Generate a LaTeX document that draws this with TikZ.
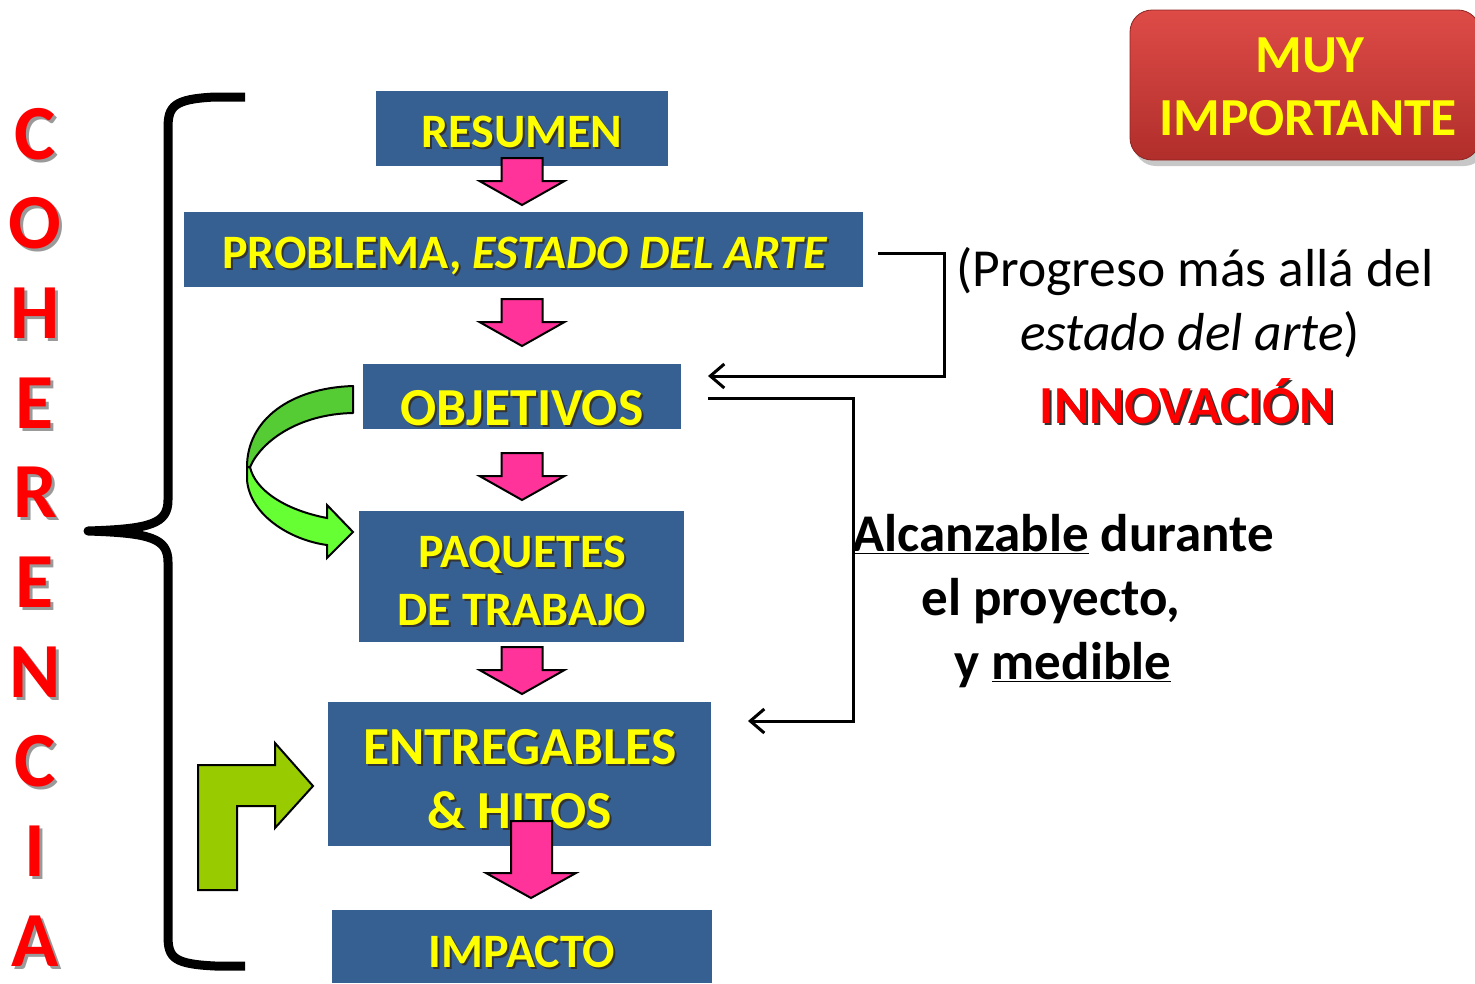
\documentclass[tikz,border=0pt]{standalone}
\usepackage{fontspec}
\setmainfont{Carlito}
\usetikzlibrary{arrows.meta,calc}
\definecolor{boxblue}{HTML}{376092}
\definecolor{ylw}{HTML}{FFFF00}
\definecolor{pinkc}{HTML}{FF3399}
\definecolor{grnA}{HTML}{55CC33}
\definecolor{grnB}{HTML}{66FF33}
\definecolor{olivec}{HTML}{99CC00}
\definecolor{redtop}{HTML}{DE4B47}
\definecolor{redbot}{HTML}{B02E2B}
\definecolor{shadowc}{HTML}{333333}
\definecolor{shadowl}{HTML}{9A9A9A}
\definecolor{redtxt}{HTML}{FF0000}
\newcommand\shd[1]{\leavevmode\rlap{\kern2pt\raisebox{-2pt}{\textcolor{shadowc}{#1}}}#1}
\newcommand\shdl[1]{\leavevmode\rlap{\kern3pt\raisebox{-3pt}{\textcolor{shadowl}{#1}}}#1}
\begin{document}
\begin{tikzpicture}[x=1pt,y=-1pt,
  box/.style={fill=boxblue, draw=none, inner sep=0pt, outer sep=0pt},
  boxtxt/.style={text=ylw, inner sep=0pt, anchor=base, font=\bfseries\fontsize{48}{56}\selectfont},
  bigtxt/.style={boxtxt, font=\bfseries\fontsize{53.5}{62}\selectfont},
  pinkarr/.style={fill=pinkc, draw=black, line width=2pt, line join=miter},
  link/.style={draw=black, line width=3pt, -{Straight Barb[length=14pt,width=24pt]}},
  rtxt/.style={inner sep=0pt, anchor=base, font=\fontsize{53.5}{62}\selectfont},
  rbtxt/.style={inner sep=0pt, anchor=base, font=\bfseries\fontsize{53}{60}\selectfont},
  cohtxt/.style={inner sep=0pt, anchor=base, text=redtxt, font=\bfseries\fontsize{78}{80}\selectfont},
  pinkdown/.pic={\path[pinkarr] (-20.5,0) -- (20.5,0) -- (20.5,23) -- (42.5,23) -- (0,47) -- (-42.5,23) -- (-20.5,23) -- cycle;}
]
\useasboundingbox (0,0) rectangle (1475,983);
\fill[white] (0,0) rectangle (1475,983);

% MUY IMPORTANTE
\fill[black, opacity=0.22, rounded corners=22pt] (1134,16) rectangle (1486,166);
\node[draw=redbot!80!black, line width=0.8pt, rounded corners=22pt, top color=redtop, bottom color=redbot,
      minimum width=350pt, minimum height=150pt, inner sep=0pt] (muy) at (1305,85) {};
\node[inner sep=0pt, anchor=base, text=ylw, font=\bfseries\fontsize{53.5}{62}\selectfont] (muy1) at (1310,72) {MUY};
\node[inner sep=0pt, anchor=base, text=ylw, font=\bfseries\fontsize{53.5}{62}\selectfont] (muy2) at (1308,135) {IMPORTANTE};

% brace
\draw[line width=9pt, line join=round] (245,97) -- (215,97)
  .. controls (174,99) and (168,106) .. (168,128) -- (168,500)
  .. controls (168,524) and (150,529) .. (88,531)
  .. controls (150,533) and (168,538) .. (168,562) -- (168,936)
  .. controls (168,958) and (174,964) .. (215,966) -- (245,966);

% COHERENCIA
\foreach \l [count=\i from 0] in {C,O,H,E,R,E,N,C,I,A} {
  \node[cohtxt] (coh\i) at (35,{159+89.7*\i}) {\shdl{\l}};
}

% boxes
\node[box, minimum width=292pt, minimum height=75pt] (resumen) at (522,128.5) {};
\node[box, minimum width=679pt, minimum height=75pt] (prob) at (523.5,249.5) {};
\node[box, minimum width=318pt, minimum height=65pt] (obj) at (522,396.5) {};
\node[box, minimum width=325pt, minimum height=131pt] (paq) at (521.5,576.5) {};
\node[box, minimum width=383pt, minimum height=144pt] (ent) at (519.5,774) {};
\node[box, minimum width=380pt, minimum height=73pt] (imp) at (522,946.5) {};

\node[boxtxt] (tres) at (522,147) {\shd{RESUMEN}};
\node[boxtxt] (tprob) at (525,268) {\shd{PROBLEMA, \textit{ESTADO DEL ARTE}}};
\node[bigtxt] (tobj) at (522,425) {\shd{OBJETIVOS}};
\node[boxtxt] (tpaq1) at (522,567) {\shd{PAQUETES}};
\node[boxtxt] (tpaq2) at (522,625) {\shd{DE TRABAJO}};
\node[bigtxt] (tent1) at (520,764) {\shd{ENTREGABLES}};
\node[bigtxt] (tent2) at (520,828) {\shd{\& HITOS}};
\node[boxtxt] (timp) at (522,967) {\shd{IMPACTO}};

% pink arrows
\pic at (522,158) {pinkdown};
\pic at (522,299) {pinkdown};
\pic at (522,453) {pinkdown};
\pic at (522,647) {pinkdown};
\path[pinkarr] (511,821) -- (552,821) -- (552,873) -- (576,873) -- (531,898) -- (486,873) -- (511,873) -- cycle;

% green curved arrow
\path[fill=grnB, draw=black, line width=2pt, line join=miter]
  (247,467) -- (247,480) .. controls (250,515) and (290,540) .. (327,545) -- (327,558) -- (353,532) -- (327,505) -- (327,518)
  .. controls (285,510) and (255,490) .. (250,467) -- cycle;
\path[fill=grnA, draw=black, line width=2pt, line join=round]
  (353,386) .. controls (290,388) and (247,420) .. (247,467)
  -- (250,467) .. controls (262,440) and (300,414) .. (353,413) -- cycle;

% olive bent arrow
\path[fill=olivec, draw=black, line width=2pt, line join=miter]
  (198,890) -- (198,765) -- (275,765) -- (275,743) -- (313,786) -- (275,828) -- (275,806) -- (237,806) -- (237,890) -- cycle;

% links
\coordinate (l1s) at (878,253);
\coordinate (l1c) at (944,376);
\coordinate (l1e) at (708,376);
\draw[link] (l1s) -| (l1c) -- (l1e);
\coordinate (l2s) at (708,398);
\coordinate (l2c) at (853,721);
\coordinate (l2e) at (748,721);
\draw[link] (l2s) -| (l2c) -- (l2e);

% right texts
\node[rtxt] (prog1) at (1195,286) {(Progreso más allá del};
\node[rtxt] (prog2) at (1190,350) {\textit{estado del arte})};
\node[inner sep=0pt, anchor=base, text=redtxt, font=\bfseries\fontsize{53.5}{62}\selectfont] (innov) at (1187,423) {\shd{INNOVACIÓN}};
\node[rbtxt] (alc1) at (1063,551) {\underline{Alcanzable} durante};
\node[rbtxt] (alc2) at (1051,615) {el proyecto,};
\node[rbtxt] (alc3) at (1063,679) {y \underline{medible}};
\end{tikzpicture}
\end{document}
